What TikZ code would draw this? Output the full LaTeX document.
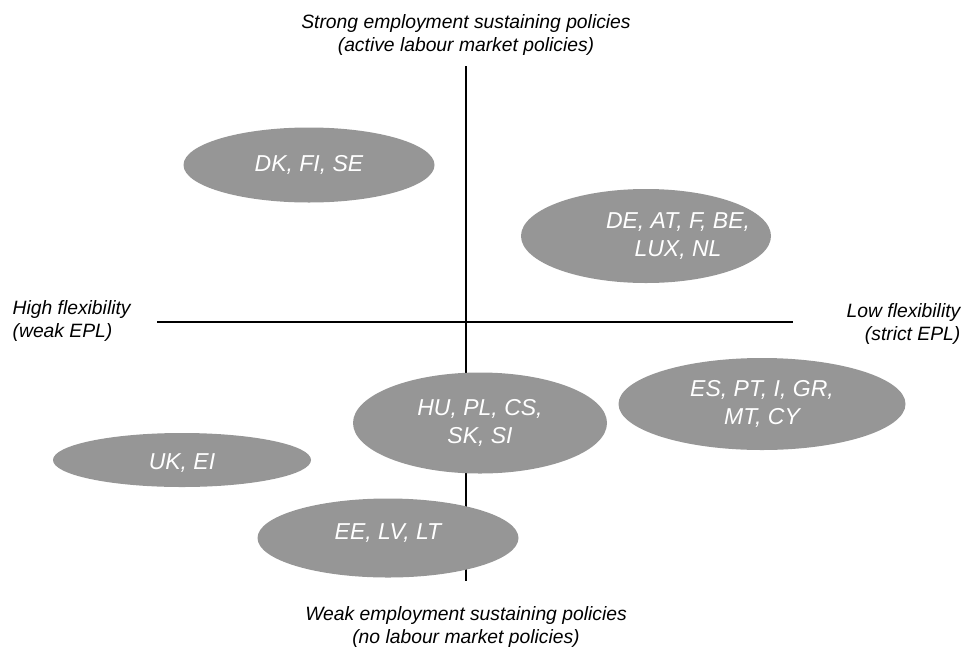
\documentclass[tikz,border=0pt]{standalone}
\usepackage{fontspec}
\setmainfont{Liberation Sans}
\usetikzlibrary{shapes.geometric}
\definecolor{blobgrau}{RGB}{150,150,150}
\tikzset{
	gruppe/.style={ellipse,fill=blobgrau,inner sep=0pt},
	gruppentext/.style={text=white,align=center,inner sep=0pt,
		font=\fontsize{23}{28}\selectfont\itshape},
	achsentext/.style={inner sep=0pt,font=\fontsize{19.3}{23}\selectfont\itshape},
}
\begin{document}
\begin{tikzpicture}[x=1pt,y=-1pt,line width=1.3pt]
\useasboundingbox (0,0) rectangle (965,648);
% Achsen
\coordinate (oben) at (466,66);
\coordinate (unten) at (466,581);
\coordinate (links) at (157,322);
\coordinate (rechts) at (793,322);
\draw (oben) -- (unten);
\draw (links) -- (rechts);
% Beschriftungen der Achsen
\node[achsentext,align=center,anchor=north] (strong) at (466,14) {Strong employment sustaining policies\\(active labour market policies)};
\node[achsentext,align=center,anchor=south] (weak) at (466,648) {Weak employment sustaining policies\\(no labour market policies)};
\node[achsentext,align=left,anchor=north west] (high) at (12,300) {High flexibility\\(weak EPL)};
\node[achsentext,align=right,anchor=north east] (low) at (961,303) {Low flexibility\\(strict EPL)};
% Laendergruppen: Name, Mitte, Breite, Hoehe, Textversatz, Text
\def\gruppe#1#2#3#4#5#6{
	\node[gruppe,minimum width=#3,minimum height=#4] (#1) at (#2) {};
	\node[gruppentext] (#1-text) at ([shift={(#5)}]#1.center) {#6};
}
\gruppe{nord}{309,165}{251}{75}{0,0}{DK, FI, SE}
\gruppe{kont}{646,236}{250}{94}{32,0}{DE, AT, F, BE,\\LUX, NL}
\gruppe{sued}{762,404}{287}{92}{0,0}{ES, PT, I, GR,\\MT, CY}
\gruppe{ost}{480,423}{254}{101}{0,0}{HU, PL, CS,\\SK, SI}
\gruppe{angel}{182,460}{258}{54}{0,3}{UK, EI}
\gruppe{balt}{388,538}{261}{79}{0,-5}{EE, LV, LT}
\end{tikzpicture}
\end{document}
